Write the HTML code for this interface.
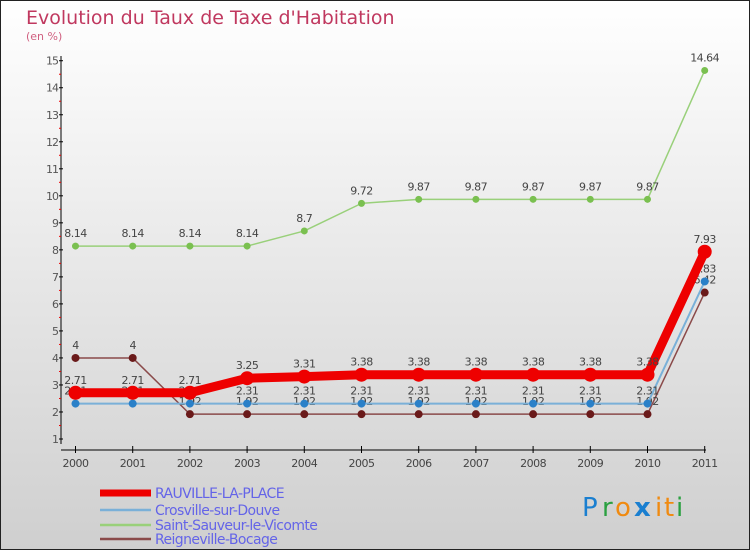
<!DOCTYPE html>
<html><head><meta charset="utf-8"><style>
body{margin:0}
#c{width:750px;height:550px;position:relative;overflow:hidden;font-family:"DejaVu Sans","Liberation Sans",sans-serif}
</style></head><body>
<div id="c">
<svg id="s" width="750" height="550" xmlns="http://www.w3.org/2000/svg">
<defs><linearGradient id="bg" x1="0" y1="0" x2="0" y2="1"><stop offset="0" stop-color="#ffffff"/><stop offset="1" stop-color="#cfcfcf"/></linearGradient></defs>
<rect x="0.5" y="0.5" width="749" height="549" fill="url(#bg)" stroke="#222"/>
<text x="26" y="24" font-size="19" fill="#c0385f">Evolution du Taux de Taxe d'Habitation</text>
<text x="26" y="40" font-size="11" fill="#d06080">(en %)</text>
<g id="axes"></g><g id="series"></g><g id="legend"></g>
<g font-size="26" font-family="'DejaVu Sans',sans-serif">
<text x="582" y="516" fill="#1a7fd0">P</text><text x="602" y="516" fill="#2aa040">r</text><text x="615" y="516" fill="#f08a10">o</text><text x="634" y="516" fill="#1a7fd0" font-weight="bold">x</text><text x="655" y="516" fill="#f08a10">i</text><text x="664" y="516" fill="#f08a10">t</text><text x="676" y="516" fill="#2aa040">i</text>
</g>
</svg>
</div>
<script>
const years=[2000,2001,2002,2003,2004,2005,2006,2007,2008,2009,2010,2011];
const rauville=[2.71,2.71,2.71,3.25,3.31,3.38,3.38,3.38,3.38,3.38,3.38,7.93];
const crosville=[2.31,2.31,2.31,2.31,2.31,2.31,2.31,2.31,2.31,2.31,2.31,6.83];
const saintSauveur=[8.14,8.14,8.14,8.14,8.7,9.72,9.87,9.87,9.87,9.87,9.87,14.64];
const reigneville=[4,4,1.92,1.92,1.92,1.92,1.92,1.92,1.92,1.92,1.92,6.42];
const yTicks=[1,2,3,4,5,6,7,8,9,10,11,12,13,14,15];
const seriesNames=["RAUVILLE-LA-PLACE","Crosville-sur-Douve","Saint-Sauveur-le-Vicomte","Reigneville-Bocage"];
const NS="http://www.w3.org/2000/svg";
function x(i){return 75.5+i*57.2;}
function y(v){return 439-(v-1)*27.02;}
function mk(t,a,p){const e=document.createElementNS(NS,t);for(const k in a)e.setAttribute(k,a[k]);p.appendChild(e);return e;}
const ax=document.getElementById('axes');
let e=mk('line',{x1:61,y1:56,x2:61,y2:444,stroke:'#000'},ax);


e=mk('line',{x1:61,y1:450,x2:706,y2:450,stroke:'#000'},ax);


yTicks.forEach(v=>{
 mk('line',{x1:59,x2:63,y1:y(v),y2:y(v),stroke:'#000'},ax);
 if(v<15)mk('line',{x1:59,x2:61,y1:y(v+0.5),y2:y(v+0.5),stroke:'#e00'},ax);
 const t=mk('text',{x:58,y:y(v)+4,'font-size':11,fill:'#555','text-anchor':'end','letter-spacing':'-1'},ax);
 t.textContent=v;
 
 
});
years.forEach((yr,i)=>{
 mk('line',{x1:x(i),x2:x(i),y1:446,y2:453,stroke:'#000'},ax);
 const t=mk('text',{x:x(i),y:467,'font-size':11,fill:'#444','text-anchor':'middle','letter-spacing':'-0.5'},ax);
 t.textContent=yr;
 
 
});
const sg=document.getElementById('series');
const defs=[
 {d:saintSauveur,c:'#99d07a',w:1.5,r:3.5,f:'#7ac050',n:'saint-sauveur'},
 {d:reigneville,c:'#8a4a4a',w:1.5,r:4,f:'#6a1a1a',n:'reigneville'},
 {d:crosville,c:'#7ab0d8',w:2,r:4,f:'#2a80c8',n:'crosville'},
 {d:rauville,c:'#ee0000',w:9,r:7,f:'#ee0000',n:'rauville'}
];
defs.forEach(s=>{
 const g=mk('g',{},sg);
 
 
 const p=mk('polyline',{points:s.d.map((v,i)=>x(i)+','+y(v)).join(' '),fill:'none',stroke:s.c,'stroke-width':s.w,'stroke-linejoin':'round'},g);
 
 
 s.d.forEach((v,i)=>{
  const c=mk('circle',{cx:x(i),cy:y(v),r:s.r,fill:s.f},g);
  
  
  const t=mk('text',{x:x(i),y:y(v)-9,'font-size':11,fill:'#444','text-anchor':'middle','letter-spacing':'-0.5'},g);
  t.textContent=String(v);
  
  
 });
});
const lg=document.getElementById('legend');
const lc=['#ee0000','#7ab0d8','#99d07a','#8a4a4a'],lw=[7,2.5,2.5,2.5],ly=[493,510,525,539];
seriesNames.forEach((n,i)=>{
 const g=mk('g',{},lg);
 
 
 mk('line',{x1:100,x2:151,y1:ly[i],y2:ly[i],stroke:lc[i],'stroke-width':lw[i]},g);
 const t=mk('text',{x:155,y:ly[i]+5,'font-size':14,fill:'#6464e8','letter-spacing':'-0.6'},g);
 t.textContent=n;
});
</script>
</body></html>
